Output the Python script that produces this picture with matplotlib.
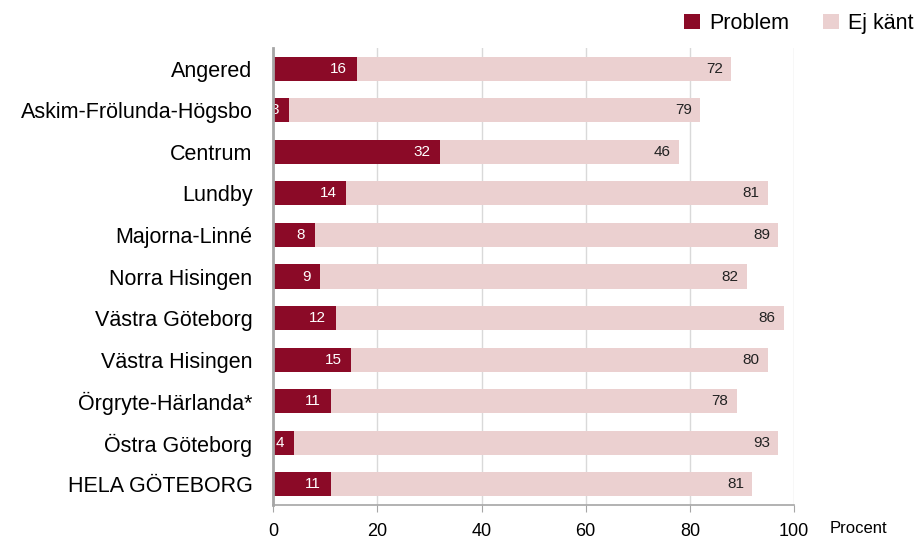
import matplotlib.pyplot as plt
import numpy as np

plt.rcParams['font.family'] = ['Liberation Sans', 'DejaVu Sans']

districts = ['Angered', 'Askim-Frölunda-Högsbo', 'Centrum', 'Lundby', 'Majorna-Linné',
             'Norra Hisingen', 'Västra Göteborg', 'Västra Hisingen', 'Örgryte-Härlanda*',
             'Östra Göteborg', 'HELA GÖTEBORG']
problem = [16, 3, 32, 14, 8, 9, 12, 15, 11, 4, 11]
ej_kant = [72, 79, 46, 81, 89, 82, 86, 80, 78, 93, 81]

dark = '#8B0A27'
light = '#EBD0D0'

fig = plt.figure(figsize=(9.2, 5.39), dpi=100)
ax = fig.add_axes([0.297, 0.063, 0.566, 0.848])

y = np.arange(len(districts))
ax.barh(y, problem, height=0.58, color=dark, label='Problem', zorder=3)
ax.barh(y, ej_kant, left=problem, height=0.58, color=light, label='Ej känt', zorder=3)

# labels at the inside end of each segment
for i in range(len(districts)):
    ax.annotate(str(problem[i]), (problem[i], y[i]), xytext=(-7, 0),
                textcoords='offset points', ha='right', va='center',
                color='white', fontsize=11, zorder=4, annotation_clip=False, clip_on=True)
    ax.annotate(str(ej_kant[i]), (problem[i] + ej_kant[i], y[i]), xytext=(-6, 0),
                textcoords='offset points', ha='right', va='center',
                color='#222222', fontsize=11, zorder=4)

ax.set_xlim(0, 100)
ax.set_ylim(len(districts) - 0.5, -0.5)
ax.set_yticks(y)
ax.set_yticklabels(districts, fontsize=15.5)
ax.set_xticks([0, 20, 40, 60, 80, 100])
ax.tick_params(axis='y', length=0, pad=15)
ax.tick_params(axis='x', length=5, color='#A6A6A6', labelsize=13, pad=8)
ax.grid(axis='x', color='#D9D9D9', linewidth=1, zorder=0)

for s in ['top', 'right']:
    ax.spines[s].set_visible(False)
ax.spines['left'].set_color('#A6A6A6')
ax.spines['left'].set_linewidth(2)
ax.spines['left'].set_zorder(5)
ax.spines['bottom'].set_color('#A6A6A6')
ax.spines['bottom'].set_linewidth(1.2)

fig.text(0.902, 0.005, 'Procent', fontsize=12, ha='left', va='bottom')

fig.legend(loc='upper right', bbox_to_anchor=(1.014, 1.012), ncol=2, frameon=False,
           fontsize=15.5, handlelength=0.75, handleheight=0.75, handletextpad=0.4,
           columnspacing=1.6)

fig.savefig('out.png', dpi=100)
